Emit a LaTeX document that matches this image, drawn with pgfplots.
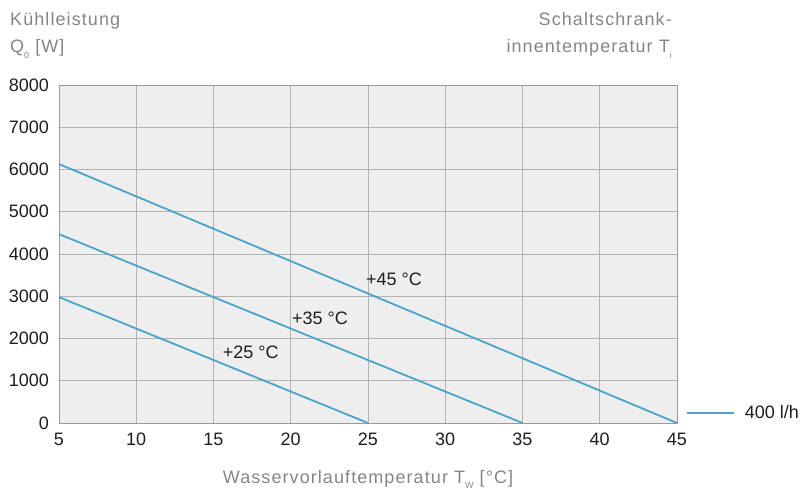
\documentclass[border=0pt]{standalone}
\usepackage{fontspec}
\setmainfont{Liberation Sans}
\newfontfamily\tfont[LetterSpace=6]{Liberation Sans}
\usepackage{pgfplots}
\pgfplotsset{compat=1.18}
\definecolor{bgc}{HTML}{EEEEEE}
\definecolor{gridc}{HTML}{B3B3B3}
\definecolor{framec}{HTML}{9A9A9A}
\definecolor{linec}{HTML}{4CA3CC}
\definecolor{titc}{HTML}{858585}
\definecolor{tickc}{HTML}{1E1E1E}
\newcommand{\sub}[1]{\raisebox{-0.3em}{\fontsize{9bp}{9bp}\selectfont #1}}
\begin{document}
\begin{tikzpicture}
\path[use as bounding box] (-59bp,-75bp) rectangle (749bp,423bp);
\begin{axis}[
 at={(0,0)}, anchor=south west,
 scale only axis, width=618bp, height=338bp,
 xmin=5, xmax=45, ymin=0, ymax=8000,
 xtick={5,10,...,45}, ytick={0,1000,...,8000},
 grid=major, major grid style={gridc, line width=0.9bp},
 axis line style={framec, line width=0.9bp},
 axis background/.style={fill=bgc},
 major tick length=0pt,
 tick style={draw=none},
 /pgf/number format/assume math mode=true,
 /pgf/number format/1000 sep={},
 tick label style={font=\fontsize{18bp}{21bp}\selectfont, text=tickc, inner sep=0pt},
 xticklabel shift=10bp, yticklabel shift=10bp,
 legend style={at={(axis description cs:1.0146,0.0296)}, anchor=west, draw=none, fill=none,
   inner sep=0pt, outer sep=0pt, font=\fontsize{18bp}{21bp}\selectfont, text=tickc,
   nodes={inner sep=0pt}, column sep=0pt},
 legend image code/.code={\draw[#1] (0bp,0bp) -- (47bp,0bp); \path (57bp,0bp);},
]
\addplot[linec, line width=1.8bp] coordinates {(5,6130) (45,0)};
\addlegendentry{400 l/h}
\addplot[linec, line width=1.8bp, forget plot] coordinates {(5,4470) (35,0)};
\addplot[linec, line width=1.8bp, forget plot] coordinates {(5,2980) (25,0)};
\node[anchor=base west, inner sep=0pt, font=\fontsize{18bp}{21bp}\selectfont, text=tickc] at (axis cs:24.87,3266) {+45 °C};
\node[anchor=base west, inner sep=0pt, font=\fontsize{18bp}{21bp}\selectfont, text=tickc] at (axis cs:20.08,2343) {+35 °C};
\node[anchor=base west, inner sep=0pt, font=\fontsize{18bp}{21bp}\selectfont, text=tickc] at (axis cs:15.6,1515) {+25 °C};
\end{axis}
\begin{scope}[every node/.style={inner sep=0pt, font=\fontsize{18bp}{21bp}\selectfont, text=titc}]
\node[anchor=base west] at (-49bp,397bp) {\tfont Kühlleistung};
\node[anchor=base west] at (-49bp,370bp) {\tfont Q\sub{0} [W]};
\node[anchor=base east] at (613bp,397bp) {\tfont Schaltschrank-};
\node[anchor=base east] at (613bp,370bp) {\tfont innentemperatur T\sub{i}};
\node[anchor=base] at (309bp,-60bp) {\tfont Wasservorlauftemperatur T\sub{W} [°C]};
\end{scope}
\end{tikzpicture}
\end{document}
